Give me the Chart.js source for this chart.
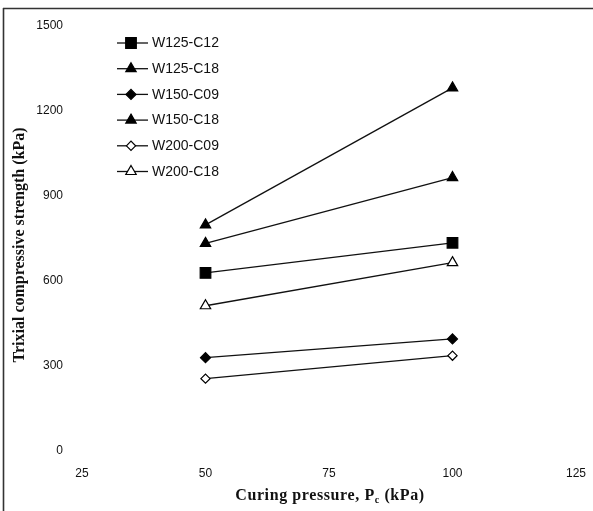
<!DOCTYPE html>
<html>
<head>
<meta charset="utf-8">
<script src="https://cdn.jsdelivr.net/npm/chart.js@4/dist/chart.umd.min.js"></script>
<style>
  html, body { margin: 0; padding: 0; background: #fff; }
  #wrap { width: 593px; height: 511px; }
</style>
</head>
<body>
<div id="wrap"><canvas id="c" width="593" height="511"></canvas></div>
<script>
// Curing pressure (kPa) and triaxial compressive strength (kPa) per mix
const curingPressure = [50, 100];
const seriesNames = ['W125-C12', 'W125-C18', 'W150-C09', 'W150-C18', 'W200-C09', 'W200-C18'];
const w125c12 = [628, 734];
const w125c18 = [797, 1280];
const w150c09 = [329, 395];
const w150c18 = [732, 964];
const w200c09 = [255, 336];
const w200c18 = [512, 664];
const xTicks = [25, 50, 75, 100, 125];
const yTicks = [0, 300, 600, 900, 1200, 1500];

const seriesValues = [w125c12, w125c18, w150c09, w150c18, w200c09, w200c18];
const markerStyles = [
  { pointStyle: 'rect',     pointRadius: 7.5, fill: '#000' },
  { pointStyle: 'triangle', pointRadius: 6,   fill: '#000' },
  { pointStyle: 'rectRot',  pointRadius: 5,   fill: '#000' },
  { pointStyle: 'triangle', pointRadius: 6,   fill: '#000' },
  { pointStyle: 'rectRot',  pointRadius: 4.6, fill: '#fff' },
  { pointStyle: 'triangle', pointRadius: 6,   fill: '#fff' }
];

const datasets = seriesNames.map((name, i) => ({
  label: name,
  data: curingPressure.map((x, j) => ({ x: x, y: seriesValues[i][j] })),
  borderColor: '#111',
  borderWidth: 1.3,
  showLine: true,
  pointStyle: markerStyles[i].pointStyle,
  pointRadius: markerStyles[i].pointRadius,
  pointHoverRadius: markerStyles[i].pointRadius,
  pointBackgroundColor: markerStyles[i].fill,
  pointBorderColor: '#000',
  pointBorderWidth: 1.2
}));

// Outer frame: top and left rules
const framePlugin = {
  id: 'frame',
  beforeDraw(chart) {
    const ctx = chart.ctx;
    ctx.save();
    ctx.fillStyle = '#fff';
    ctx.fillRect(0, 0, chart.width, chart.height);
    ctx.strokeStyle = '#333';
    ctx.lineWidth = 1.6;
    ctx.beginPath();
    ctx.moveTo(3, 8.5);
    ctx.lineTo(chart.width, 8.5);
    ctx.moveTo(3.5, 8);
    ctx.lineTo(3.5, chart.height);
    ctx.stroke();
    ctx.restore();
  }
};

// Legend inside the plot: short line with the series marker, then its name
const insideLegend = {
  id: 'insideLegend',
  afterDatasetsDraw(chart) {
    const ctx = chart.ctx;
    const draw = Chart.helpers && Chart.helpers.drawPoint;
    ctx.save();
    chart.data.datasets.forEach((ds, i) => {
      const y = 43 + i * 25.7;
      ctx.strokeStyle = ds.borderColor;
      ctx.lineWidth = ds.borderWidth;
      ctx.beginPath();
      ctx.moveTo(117, y);
      ctx.lineTo(148, y);
      ctx.stroke();
      ctx.fillStyle = ds.pointBackgroundColor;
      ctx.strokeStyle = ds.pointBorderColor;
      ctx.lineWidth = ds.pointBorderWidth;
      if (draw) {
        draw(ctx, { pointStyle: ds.pointStyle, radius: ds.pointRadius, borderWidth: ds.pointBorderWidth, rotation: 0 }, 131, y);
      }
      ctx.fillStyle = '#111';
      ctx.font = '14px "Liberation Sans", Arial, sans-serif';
      ctx.textBaseline = 'middle';
      ctx.textAlign = 'left';
      ctx.fillText(ds.label, 152, y + 0.5);
    });
    ctx.restore();
  }
};

// Axis titles, with the subscript on the x-axis title
const axisTitles = {
  id: 'axisTitles',
  afterDraw(chart) {
    const ctx = chart.ctx;
    ctx.save();
    ctx.fillStyle = '#111';
    ctx.textBaseline = 'alphabetic';
    const hasSpacing = 'letterSpacing' in ctx;
    if (hasSpacing) ctx.letterSpacing = '0.6px';
    const big = 'bold 16px "Liberation Serif", "Times New Roman", serif';
    const small = 'bold 10px "Liberation Serif", "Times New Roman", serif';
    const parts = [
      { t: 'Curing pressure, P', f: big, dy: 0 },
      { t: 'c', f: small, dy: 3 },
      { t: ' (kPa)', f: big, dy: 0 }
    ];
    let total = 0;
    parts.forEach(p => { ctx.font = p.f; p.w = ctx.measureText(p.t).width; total += p.w; });
    let x = 330 - total / 2;
    const baseY = 500;
    ctx.textAlign = 'left';
    parts.forEach(p => { ctx.font = p.f; ctx.fillText(p.t, x, baseY + p.dy); x += p.w; });

    if (hasSpacing) ctx.letterSpacing = '0px';
    ctx.translate(24, 245);
    ctx.rotate(-Math.PI / 2);
    ctx.font = big;
    ctx.textAlign = 'center';
    ctx.fillText('Trixial compressive strength (kPa)', 0, 0);
    ctx.restore();
  }
};

new Chart(document.getElementById('c'), {
  type: 'scatter',
  data: { datasets: datasets },
  options: {
    responsive: false,
    animation: false,
    devicePixelRatio: 1,
    layout: { padding: { left: 0, top: 25.5, right: 9, bottom: 0 } },
    plugins: { legend: { display: false }, tooltip: { enabled: false } },
    scales: {
      x: {
        type: 'linear',
        min: xTicks[0],
        max: xTicks[xTicks.length - 1],
        afterBuildTicks: (s) => { s.ticks = xTicks.map(v => ({ value: v })); },
        afterFit: (s) => { s.height = 60; },
        grid: { display: false },
        border: { display: false },
        ticks: {
          color: '#111',
          padding: 7,
          callback: (v) => String(v),
          font: { family: '"Liberation Sans", Arial, sans-serif', size: 12 }
        }
      },
      y: {
        type: 'linear',
        min: yTicks[0],
        max: yTicks[yTicks.length - 1],
        afterBuildTicks: (s) => { s.ticks = yTicks.map(v => ({ value: v })); },
        afterFit: (s) => { s.width = 82; },
        grid: { display: false },
        border: { display: false },
        ticks: {
          color: '#111',
          padding: 11,
          callback: (v) => String(v),
          font: { family: '"Liberation Sans", Arial, sans-serif', size: 12 }
        }
      }
    }
  },
  plugins: [framePlugin, insideLegend, axisTitles]
});
</script>
</body>
</html>
